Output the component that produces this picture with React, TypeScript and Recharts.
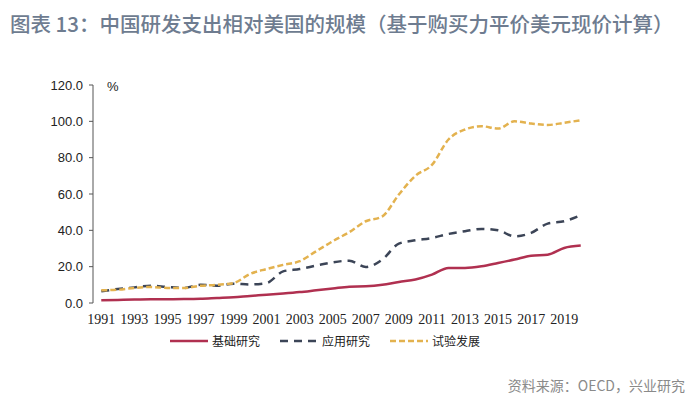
import React from "react";
import { LineChart, Line, XAxis, YAxis } from "recharts";

const years = [
  1991, 1992, 1993, 1994, 1995, 1996, 1997, 1998, 1999, 2000,
  2001, 2002, 2003, 2004, 2005, 2006, 2007, 2008, 2009, 2010,
  2011, 2012, 2013, 2014, 2015, 2016, 2017, 2018, 2019, 2020,
];

// 基础研究
const basic = [
  1.5, 1.7, 1.9, 2.0, 2.1, 2.2, 2.4, 2.8, 3.2, 3.9,
  4.5, 5.2, 6.0, 7.0, 8.0, 9.0, 9.2, 10.0, 11.6, 12.9,
  15.6, 19.3, 19.3, 20.2, 22.0, 23.9, 26.0, 26.6, 30.3, 31.6,
];

// 应用研究
const applied = [
  6.4, 7.7, 8.6, 9.5, 8.8, 8.3, 10.0, 9.5, 10.6, 10.2,
  11.0, 17.4, 18.7, 20.6, 22.4, 23.3, 19.8, 23.9, 32.7, 34.5,
  35.8, 38.0, 39.5, 40.8, 40.0, 36.7, 38.6, 43.7, 45.0, 48.3,
];

// 试验发展
const experimental = [
  7.0, 7.3, 8.3, 8.8, 8.3, 8.3, 9.5, 10.0, 11.0, 16.0,
  18.7, 21.0, 23.0, 28.5, 34.0, 39.0, 45.0, 47.7, 59.7, 70.0,
  76.0, 90.0, 95.5, 97.3, 96.0, 100.0, 98.8, 98.0, 99.2, 100.6,
];

const yTicks = [0, 20, 40, 60, 80, 100, 120];

const series = [
  { key: "basic", name: "基础研究", color: "#b03050", dash: undefined },
  { key: "applied", name: "应用研究", color: "#3c4557", dash: "8 6" },
  { key: "experimental", name: "试验发展", color: "#e3b24f", dash: "6 3" },
];

const data = years.map((year, i) => ({
  year,
  basic: basic[i],
  applied: applied[i],
  experimental: experimental[i],
}));

// labels sit on every other year, tick marks on the category boundaries between them
const labelTicks = years.filter((_, i) => i % 2 === 0);
const boundaryTicks = [...labelTicks.map((y) => y - 0.5), years[years.length - 1] + 0.5];
const xDomain = [years[0] - 0.5, years[years.length - 1] + 0.5];

const axisColor = "#555";

export default function App() {
  return (
    <div
      style={{
        position: "absolute",
        left: 0,
        top: 0,
        width: 700,
        height: 402,
        background: "#fff",
        fontFamily: "'Noto Sans CJK SC', sans-serif",
      }}
    >
      <div
        style={{
          position: "absolute",
          left: 10,
          top: 8,
          fontSize: 20.5,
          fontWeight: 500,
          color: "#6e7c90",
          whiteSpace: "nowrap",
        }}
      >
        图表 13：中国研发支出相对美国的规模（基于购买力平价美元现价计算）
      </div>

      <LineChart
        width={700}
        height={402}
        data={data}
        margin={{ top: 85, right: 111, bottom: 69, left: 43 }}
      >
        <XAxis
          xAxisId="marks"
          dataKey="year"
          type="number"
          domain={xDomain}
          ticks={boundaryTicks}
          tick={false}
          tickSize={4}
          height={0}
          stroke={axisColor}
        />
        <XAxis
          xAxisId="labels"
          dataKey="year"
          type="number"
          domain={xDomain}
          ticks={labelTicks}
          axisLine={false}
          tickLine={false}
          tickSize={0}
          tickMargin={11}
          height={30}
          interval={0}
          tick={{ fontSize: 14, fill: "#222", fontFamily: "'Liberation Serif', serif" }}
        />
        <YAxis
          domain={[0, 120]}
          ticks={yTicks}
          width={50}
          tickSize={4}
          tickMargin={6}
          stroke={axisColor}
          tickFormatter={(v) => Number(v).toFixed(1)}
          tick={{ fontSize: 13, fill: "#222", fontFamily: "'Liberation Sans', sans-serif" }}
        />
        {series.map((s) => (
          <Line
            key={s.key}
            xAxisId="labels"
            type="monotone"
            dataKey={s.key}
            name={s.name}
            stroke={s.color}
            strokeWidth={2.5}
            strokeDasharray={s.dash}
            dot={false}
            isAnimationActive={false}
          />
        ))}
      </LineChart>

      <div
        style={{
          position: "absolute",
          left: 107,
          top: 79,
          fontSize: 13,
          color: "#222",
          fontFamily: "'Liberation Sans', sans-serif",
        }}
      >
        %
      </div>

      <div
        style={{
          position: "absolute",
          left: 170,
          top: 332,
          display: "flex",
          alignItems: "center",
          fontSize: 12,
          color: "#222",
        }}
      >
        {series.map((s) => (
          <div key={s.key} style={{ display: "flex", alignItems: "center", marginRight: 20 }}>
            <svg width={38} height={10} style={{ marginRight: 4 }}>
              <line
                x1={0}
                y1={5}
                x2={38}
                y2={5}
                stroke={s.color}
                strokeWidth={2.5}
                strokeDasharray={s.dash}
              />
            </svg>
            <span>{s.name}</span>
          </div>
        ))}
      </div>

      <div
        style={{
          position: "absolute",
          right: 15,
          top: 375,
          fontSize: 14,
          color: "#8a8a8a",
          whiteSpace: "nowrap",
        }}
      >
        资料来源：OECD，兴业研究
      </div>
    </div>
  );
}
